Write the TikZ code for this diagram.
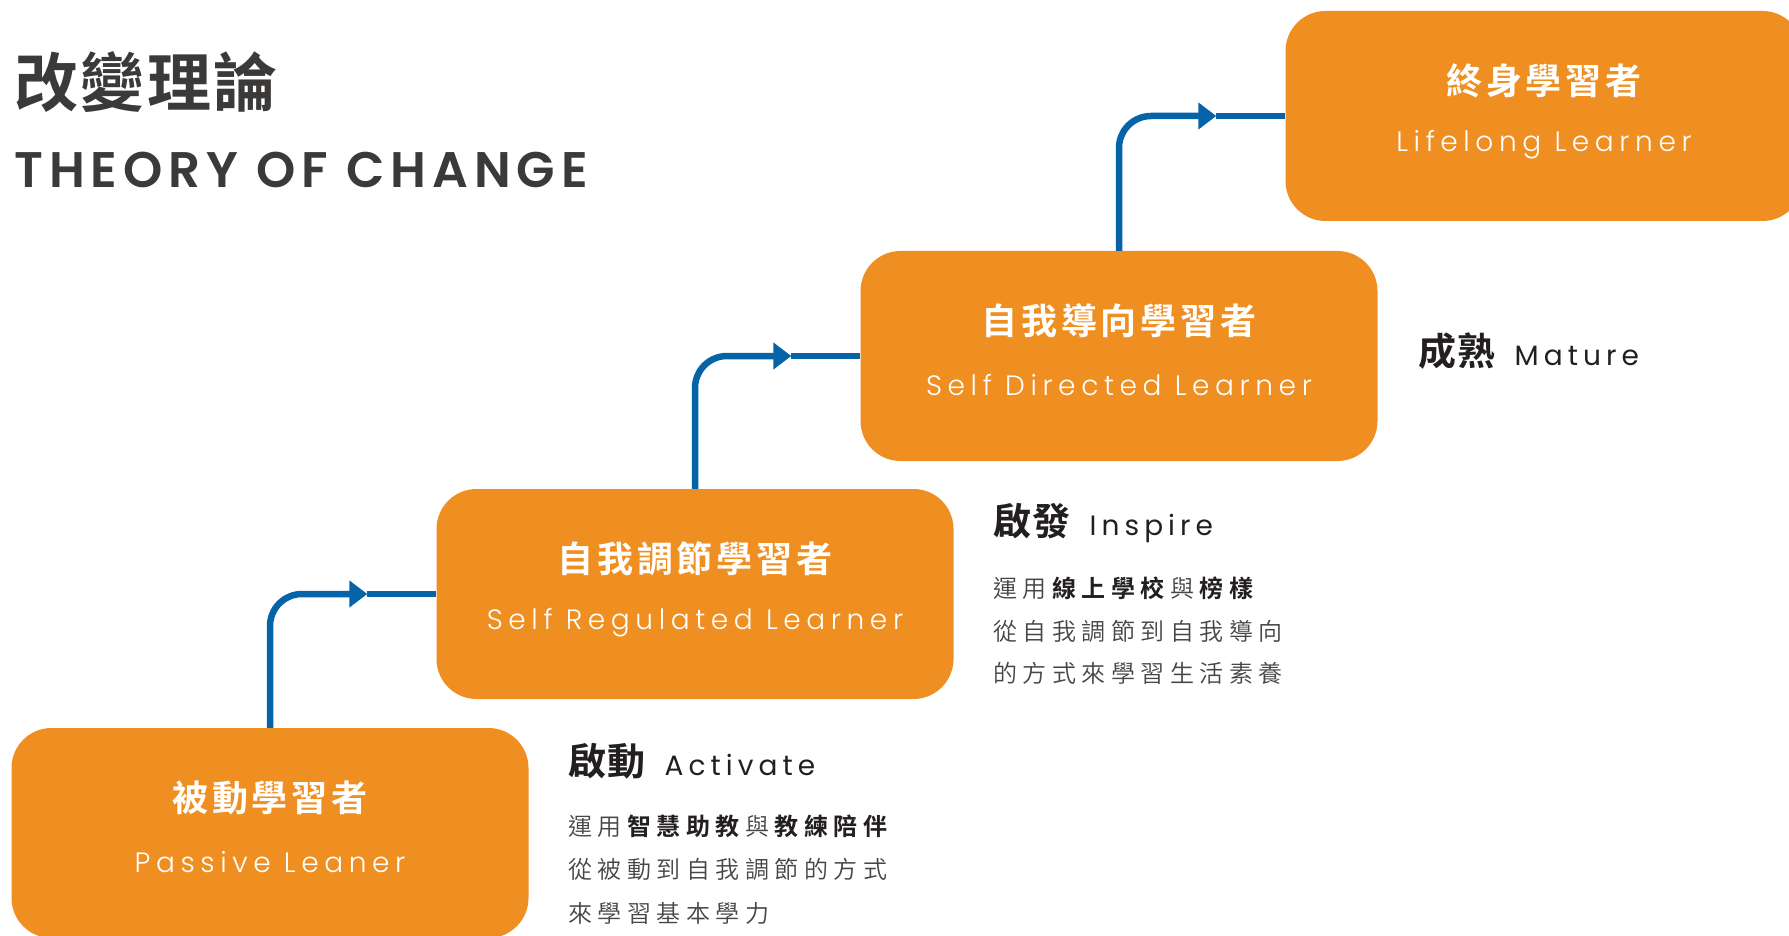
\documentclass[tikz,border=0pt]{standalone}
\usepackage{fontspec}
\setmainfont{Poppins}
\newfontfamily\cjk{Noto Sans CJK TC DemiLight}[LetterSpace=23, BoldFont={Noto Sans CJK TC Bold}]
\newfontfamily\cjkbox{Noto Sans CJK TC Bold}[LetterSpace=11]
\newfontfamily\cjkh{Noto Sans CJK TC Bold}[LetterSpace=4]
\newfontfamily\pop{Poppins Light}[LetterSpace=20]
\newfontfamily\poph{Poppins}[LetterSpace=18]
\newfontfamily\popt{Poppins SemiBold}[LetterSpace=12]
\usetikzlibrary{arrows.meta,calc}
\definecolor{orangebox}{RGB}{240,143,33}
\definecolor{bluearrow}{RGB}{5,99,168}
\definecolor{darktext}{RGB}{35,31,32}
\definecolor{titletext}{RGB}{60,57,57}
\definecolor{bodytext}{RGB}{70,70,70}
\newcommand\lsp{\kern5.5pt}
\newcommand\bd[1]{{\bfseries\color{darktext}#1}}
\begin{document}
\begin{tikzpicture}[x=1pt,y=-1pt,
  stage/.style={fill=orangebox, rounded corners=40pt, minimum width=517pt, minimum height=210pt, inner sep=0pt},
  zhlabel/.style={text=white, inner sep=0pt, font=\cjkbox\fontsize{36}{42}\selectfont},
  enlabel/.style={text=white, inner sep=0pt, font=\pop\fontsize{28}{34}\selectfont},
  conn/.style={draw=bluearrow, line width=6.5pt, rounded corners=32pt},
  arrowtip/.style={-{Triangle[length=18pt,width=26pt]}},
  sidehead/.style={anchor=west, text=darktext, inner sep=0pt},
  sidebody/.style={anchor=west, text=bodytext, inner sep=0pt, font=\cjk\fontsize{24}{28}\selectfont},
]
\useasboundingbox (0,0) rectangle (1789,936);

% title
\node[anchor=west, text=titletext, inner sep=0pt, font=\cjkh\fontsize{64}{70}\selectfont] (ttl) at (14,82) {改變理論};
\node[anchor=west, text=titletext, inner sep=0pt, font=\popt\fontsize{50}{60}\selectfont] (ttlen) at (14,170) {THEORY OF CHANGE};

% stages
\node[stage] (b1) at (270,833) {};
\node[stage] (b2) at (695,594) {};
\node[stage] (b3) at (1119,356) {};
\node[stage] (b4) at (1544,116) {};

\node[zhlabel] (z1) at ($(b1.center)+(0,-35)$) {被動學習者};
\node[enlabel] (e1) at ($(b1.center)+(0,29)$) {Passive Leaner};
\node[zhlabel] (z2) at ($(b2.center)+(0,-35)$) {自我調節學習者};
\node[enlabel] (e2) at ($(b2.center)+(0,29)$) {Self Regulated Learner};
\node[zhlabel] (z3) at ($(b3.center)+(0,-35)$) {自我導向學習者};
\node[enlabel] (e3) at ($(b3.center)+(0,29)$) {Self Directed Learner};
\node[zhlabel] (z4) at ($(b4.center)+(0,-35)$) {終身學習者};
\node[enlabel] (e4) at ($(b4.center)+(0,29)$) {Lifelong Learner};

% connectors
\coordinate (t1) at ($(b2.west)+(-69,0)$);
\coordinate (t2) at ($(b3.west)+(-69,0)$);
\coordinate (t3) at ($(b4.west)+(-69,0)$);
\draw[conn, arrowtip] (b1.north) |- (t1);
\draw[conn] (t1) -- (b2.west);
\draw[conn, arrowtip] (b2.north) |- (t2);
\draw[conn] (t2) -- (b3.west);
\draw[conn, arrowtip] (b3.north) |- (t3);
\draw[conn] (t3) -- (b4.west);

% side texts
\node[sidehead] (h1) at (568,761) {{\cjkh\fontsize{38}{42}\selectfont 啟動}\hspace{19pt}{\poph\fontsize{28}{34}\selectfont Activate}};
\node[sidebody] (l11) at (568,826) {運用\lsp\bd{智慧助教}\lsp 與\lsp\bd{教練陪伴}};
\node[sidebody] (l12) at (568,869) {從被動到自我調節的方式};
\node[sidebody] (l13) at (568,913) {來學習基本學力};

\node[sidehead] (h2) at (993,523) {{\cjkh\fontsize{38}{42}\selectfont 啟發}\hspace{19pt}{\poph\fontsize{28}{34}\selectfont Inspire}};
\node[sidebody] (l21) at (993,588) {運用\lsp\bd{線上學校}\lsp 與\lsp\bd{榜樣}};
\node[sidebody] (l22) at (993,631) {從自我調節到自我導向};
\node[sidebody] (l23) at (993,673) {的方式來學習生活素養};

\node[sidehead] (h3) at (1418,351) {{\cjkh\fontsize{38}{42}\selectfont 成熟}\hspace{19pt}{\poph\fontsize{28}{34}\selectfont Mature}};
\end{tikzpicture}
\end{document}
